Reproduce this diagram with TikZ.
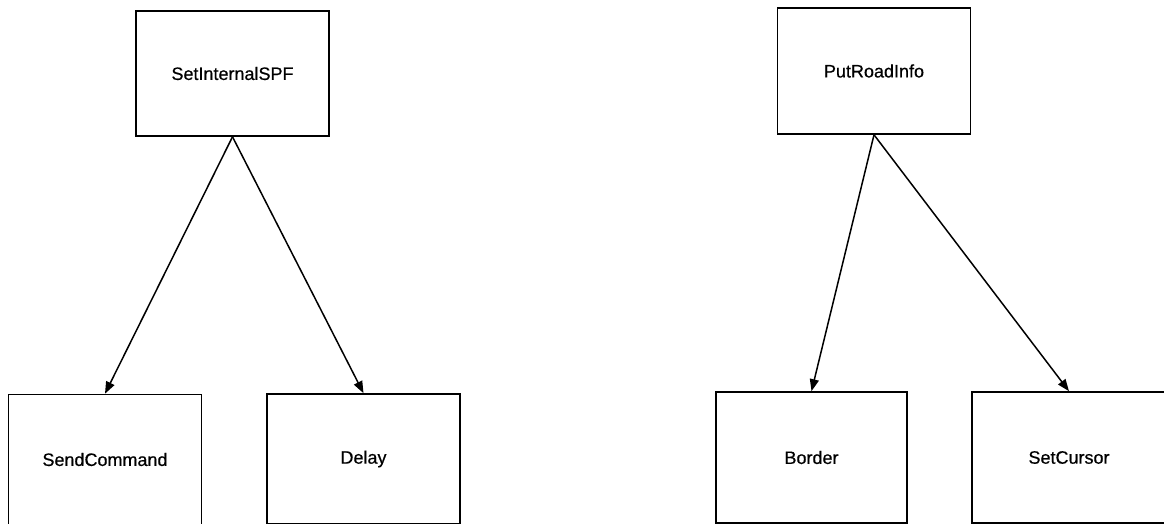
\documentclass[tikz,border=0pt]{standalone}
\usepackage{fontspec}
\setmainfont[FakeBold=0.5]{Liberation Sans}
\usetikzlibrary{arrows.meta}
\begin{document}
\begin{tikzpicture}[x=1pt,y=-1pt,
  fbox/.style={draw=black,line width=1.6pt,rectangle,fill=none,inner sep=0pt,
    minimum width=193pt,font=\fontsize{18}{20}\selectfont},
  link/.style={line width=1.5pt,-{Triangle[length=12pt,width=9pt]}}]
\useasboundingbox[fill=white] (0,0) rectangle (1164,524);
\node[fbox,minimum height=125pt] (a) at (232.5,73.5) {SetInternalSPF};
\node[fbox,minimum height=126pt] (b) at (874,71) {PutRoadInfo};
\node[fbox,minimum height=130pt] (c) at (105,459.5) {SendCommand};
\node[fbox,minimum height=130pt] (d) at (363.5,459) {Delay};
\node[fbox,minimum height=131pt,minimum width=191pt] (e) at (811.5,457.5) {Border};
\node[fbox,minimum height=131pt,minimum width=194pt] (f) at (1069,457.5) {SetCursor};
\draw[link] (a.south) -- (c.north);
\draw[link] (a.south) -- (d.north);
\draw[link] (b.south) -- (e.north);
\draw[link] (b.south) -- (f.north);
\end{tikzpicture}
\end{document}
